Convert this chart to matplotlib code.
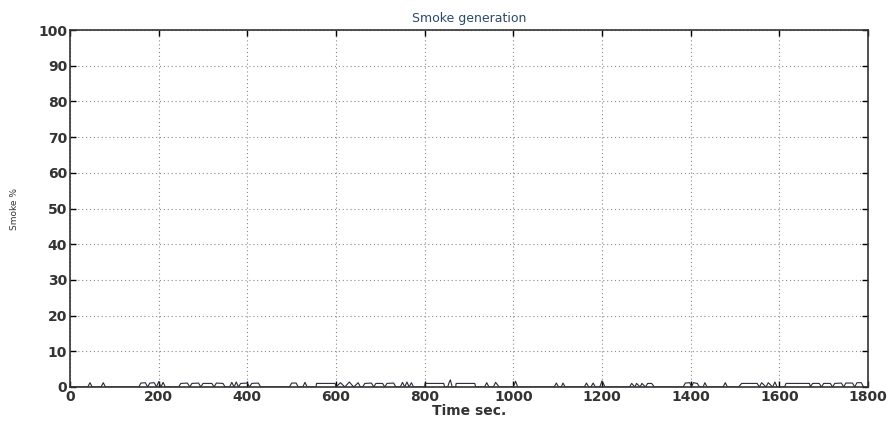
import numpy as np
import matplotlib.pyplot as plt

# Datos (tiempo en seg, humo en %)
t = [0,
     40, 45, 50, 70, 75, 80,
     155, 160, 170, 175, 180, 190, 195, 200, 205, 210, 215,
     245, 250, 265, 270, 275, 290, 295, 300, 320, 325, 330, 345, 350,
     360, 365, 370, 375, 380, 385, 400, 405, 410, 425, 430,
     495, 500, 510, 515, 525, 530, 535,
     555, 556, 598, 600, 610, 620, 630, 640, 650, 655,
     660, 665, 680, 685, 690, 705, 710, 715, 730, 735,
     745, 750, 755, 760, 765, 770, 775,
     800, 801, 843, 845, 852, 855, 858, 862,
     870, 871, 913, 915, 935, 940, 945, 955, 960, 968,
     1000, 1005, 1010,
     1092, 1097, 1102, 1108, 1112, 1117,
     1160, 1165, 1170, 1175, 1180, 1185, 1195, 1200, 1207,
     1262, 1267, 1274, 1278, 1286, 1290, 1298, 1303, 1312, 1318,
     1383, 1388, 1398, 1402, 1406, 1415, 1420,
     1428, 1432, 1437, 1473, 1478, 1483,
     1508, 1515, 1550, 1555, 1560, 1570, 1575, 1585, 1590, 1595,
     1612, 1615, 1668, 1670, 1675, 1690, 1695, 1700, 1715, 1720,
     1725, 1740, 1745, 1750, 1765, 1770, 1775, 1785, 1790, 1800]
smoke = [0,
         0, 1.2, 0, 0, 1.2, 0,
         0, 1.1, 1.2, 0, 1.1, 1.2, 0, 1.5, 0, 1.3, 0,
         0, 1.0, 1.1, 0, 1.0, 1.1, 0, 1.0, 1.0, 0, 1.1, 1.0, 0,
         0, 1.3, 0, 1.4, 0, 1.0, 1.1, 0, 1.0, 1.1, 0,
         0, 1.1, 1.1, 0, 0, 1.3, 0,
         0, 1.0, 1.0, 0, 1.2, 0, 1.4, 0, 1.2, 0,
         0, 1.0, 1.1, 0, 1.0, 1.0, 0, 1.0, 1.1, 0,
         0, 1.3, 0, 1.4, 0, 1.2, 0,
         0, 1.0, 1.0, 0, 0, 1.2, 2.0, 0,
         0, 1.0, 1.0, 0, 0, 1.2, 0, 0, 1.3, 0,
         0, 1.6, 0,
         0, 1.1, 0, 0, 1.1, 0,
         0, 1.1, 0, 0, 1.1, 0, 0, 1.7, 0,
         0, 1.0, 0, 1.0, 0, 1.0, 0, 1.0, 1.0, 0,
         0, 1.1, 1.2, 0, 1.2, 1.0, 0,
         0, 1.2, 0, 0, 1.2, 0,
         0, 1.0, 1.0, 0, 1.2, 0, 1.2, 0, 1.4, 0,
         0, 1.0, 1.0, 0, 1.0, 1.0, 0, 1.0, 1.0, 0,
         1.0, 1.1, 0, 1.1, 1.1, 0, 1.2, 1.2, 0, 0]

xticks = [0, 200, 400, 600, 800, 1000, 1200, 1400, 1600, 1800]
yticks = [0, 10, 20, 30, 40, 50, 60, 70, 80, 90, 100]

fig = plt.figure(figsize=(8.93, 4.21), dpi=100)
ax = fig.add_axes([0.0784, 0.0808, 0.8936, 0.8479])

ax.plot(t, smoke, color='#2a2a3a', linewidth=0.8)

ax.set_xlim(0, 1800)
ax.set_ylim(0, 100)
ax.set_xticks(xticks)
ax.set_yticks(yticks)
ax.grid(True, linestyle=(0, (1, 2.5)), color='#8a8a8a', linewidth=0.8)
ax.tick_params(direction='in', length=4, width=1, labelsize=10, pad=2,
               top=True, right=True)
for lab in ax.get_xticklabels() + ax.get_yticklabels():
    lab.set_fontweight('bold')
    lab.set_color('#333333')
for sp in ax.spines.values():
    sp.set_linewidth(1.2)
    sp.set_color('#333333')

ax.set_title('Smoke generation', fontsize=9, color='#2a4a6a', pad=6)
ax.set_xlabel('Time sec.', fontsize=10, fontweight='bold', labelpad=0, color='#333333')
ax.set_ylabel('Smoke %', fontsize=6.5, labelpad=14, color='#333333')

fig.savefig('out.png', dpi=100)
